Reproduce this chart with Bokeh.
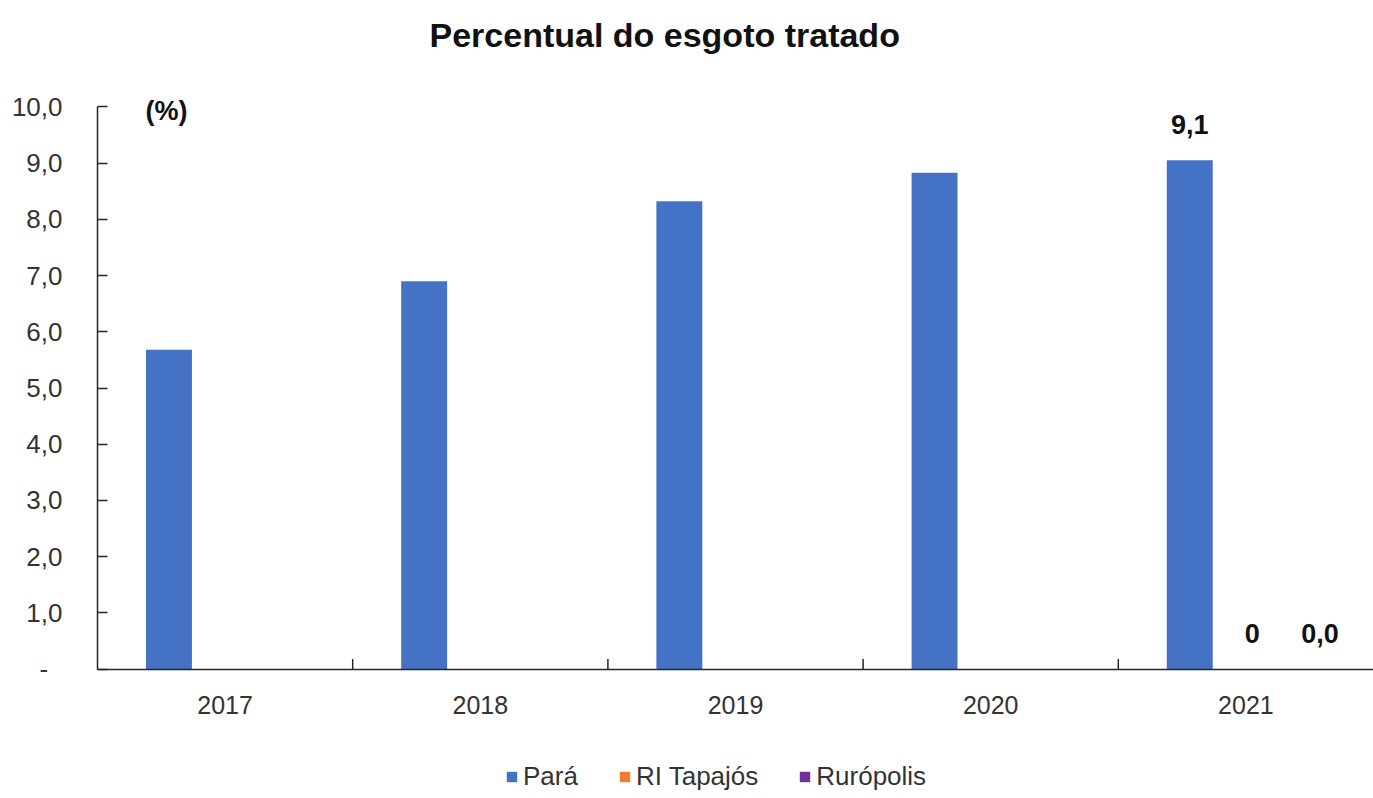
import math
from bokeh.plotting import figure
from bokeh.models import (ColumnDataSource, FactorRange, Range1d, Legend,
                          LegendItem, FixedTicker, Title)
from bokeh.transform import dodge
from bokeh.core.properties import value
from bokeh.embed import file_html
from bokeh.resources import INLINE

# ---------------- data ----------------
years = ["2017", "2018", "2019", "2020", "2021"]
para = [5.68, 6.9, 8.32, 8.83, 9.05]
ri_tapajos = [math.nan, math.nan, math.nan, math.nan, 0.0]
ruropolis = [math.nan, math.nan, math.nan, math.nan, 0.0]
para_labels = ["", "", "", "", "9,1"]
ri_labels = ["", "", "", "", "0"]
rur_labels = ["", "", "", "", "0,0"]
series_names = ["Pará", "RI Tapajós", "Rurópolis"]
series_colors = ["#4472C4", "#ED7D31", "#7030A0"]
y_ticks = [0, 1, 2, 3, 4, 5, 6, 7, 8, 9, 10]
y_tick_labels = ["-\u00a0\u00a0", "1,0", "2,0", "3,0", "4,0", "5,0",
                 "6,0", "7,0", "8,0", "9,0", "10,0"]
title_text = "Percentual do esgoto tratado"
unit_text = "(%)"

FONT = "Liberation Sans"

src = ColumnDataSource(dict(year=years, para=para, ri=ri_tapajos, rur=ruropolis,
                            para_lab=para_labels, ri_lab=ri_labels, rur_lab=rur_labels))
bsrc = ColumnDataSource(dict(year=years[:-1], y0=[0.0] * (len(years) - 1),
                             y1=[0.18] * (len(years) - 1)))

# the frame spans the whole lower part of the page so that the legend fits inside it;
# the value axis itself is bounded to 0..10
p = figure(width=1373, height=798, output_backend="svg", toolbar_location=None,
           x_range=FactorRange(*years, range_padding=0),
           y_range=Range1d(-2.30, 10.825),
           min_border_left=97, min_border_right=0, min_border_top=60,
           min_border_bottom=0)
p.title.visible = False
p.outline_line_color = None
p.xgrid.visible = False
p.ygrid.visible = False
p.background_fill_color = "white"

cols = ["para", "ri", "rur"]
labs = ["para_lab", "ri_lab", "rur_lab"]
offsets = [-0.22, 0.025, 0.29]
renderers = []
for c, lab, off, color in zip(cols, labs, offsets, series_colors):
    xs = dodge("year", off, range=p.x_range)
    r = p.vbar(x=xs, top=c, width=0.18, source=src, fill_color=color, line_color=None)
    renderers.append(r)
    p.text(x=xs, y=c, text=lab, source=src, text_align="center", text_baseline="bottom",
           y_offset=-26, text_font=value(FONT), text_font_style="bold",
           text_font_size="27px", text_color="#111111")

# unit label at the top of the value axis
usrc = ColumnDataSource(dict(year=[years[0]], y=[y_ticks[-1]], t=[unit_text]))
p.text(x=dodge("year", -0.23, range=p.x_range), y="y", text="t", source=usrc,
       text_align="center", text_baseline="middle", y_offset=4,
       text_font=value(FONT), text_font_style="bold", text_font_size="27px",
       text_color="#111111")

# category boundary ticks (Excel style)
bx = dodge("year", 0.5, range=p.x_range)
p.segment(x0=bx, y0="y0", x1=bx, y1="y1", source=bsrc, line_color="#262626", line_width=1.5)

# axes
xa = p.xaxis[0]
xa.fixed_location = 0
xa.major_tick_line_color = None
xa.minor_tick_line_color = None
xa.axis_line_color = "#262626"
xa.axis_line_width = 1.5
xa.major_label_standoff = 21
xa.major_label_text_font = FONT
xa.major_label_text_font_size = "25px"
xa.major_label_text_color = "#333333"

ya = p.yaxis[0]
ya.ticker = FixedTicker(ticks=y_ticks)
ya.bounds = (0, 10)
ya.major_label_overrides = {t: l for t, l in zip(y_ticks, y_tick_labels)}
ya.major_tick_in = 10
ya.major_tick_out = 0
ya.major_tick_line_color = "#262626"
ya.major_tick_line_width = 1.5
ya.minor_tick_line_color = None
ya.axis_line_color = "#262626"
ya.axis_line_width = 1.5
ya.major_label_standoff = 35
ya.major_label_text_font = FONT
ya.major_label_text_font_size = "26px"
ya.major_label_text_color = "#333333"

# title
p.add_layout(Title(text=title_text, align="left", offset=332, standoff=14,
                   text_font=FONT, text_font_style="bold", text_font_size="34px",
                   text_color="#111111"), "above")

legend = Legend(items=[LegendItem(label=n, renderers=[r]) for n, r in zip(series_names, renderers)],
                location=(408, 6), orientation="horizontal", padding=0, spacing=40,
                margin=0, label_standoff=5, glyph_width=13, glyph_height=13,
                border_line_color=None, background_fill_alpha=0,
                label_text_font=FONT, label_text_font_size="26px",
                label_text_color="#333333")
p.add_layout(legend)

open("out.html", "w").write(file_html(p, INLINE))
